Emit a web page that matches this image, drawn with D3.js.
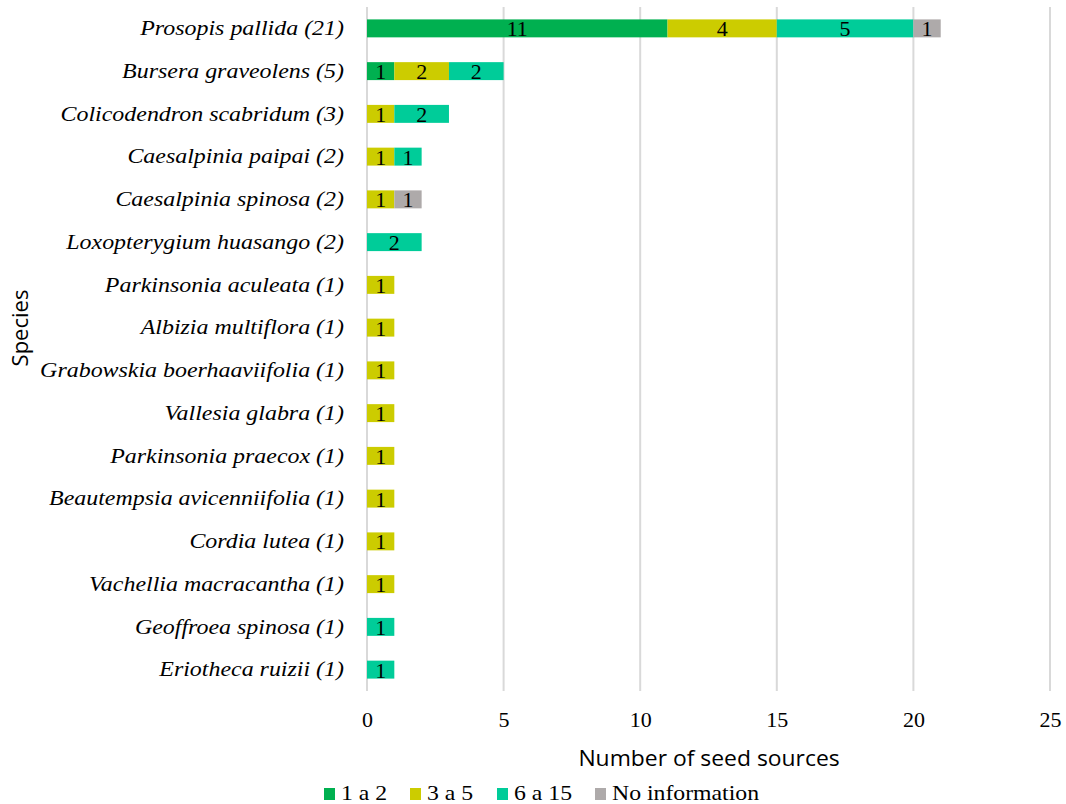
<!DOCTYPE html>
<html><head><meta charset="utf-8">
<script src="https://cdn.jsdelivr.net/npm/d3@7"></script>
<style>body{margin:0;background:#fff;}</style>
</head><body>
<svg id="chart" width="1066" height="804"></svg>
<script>
const species = ["Prosopis pallida (21)","Bursera graveolens (5)","Colicodendron scabridum (3)","Caesalpinia paipai (2)","Caesalpinia spinosa (2)","Loxopterygium huasango (2)","Parkinsonia aculeata (1)","Albizia multiflora (1)","Grabowskia boerhaaviifolia (1)","Vallesia glabra (1)","Parkinsonia praecox (1)","Beautempsia avicenniifolia (1)","Cordia lutea (1)","Vachellia macracantha (1)","Geoffroea spinosa (1)","Eriotheca ruizii (1)"];
const seriesNames = ["1 a 2","3 a 5","6 a 15","No information"];
const s1a2   = [11,1,0,0,0,0,0,0,0,0,0,0,0,0,0,0];
const s3a5   = [4,2,1,1,1,0,1,1,1,1,1,1,1,1,0,0];
const s6a15  = [5,2,2,1,0,2,0,0,0,0,0,0,0,0,1,1];
const sNoInf = [1,0,0,0,1,0,0,0,0,0,0,0,0,0,0,0];
const colors = ["#00B050","#CCCC00","#00CC99","#AEAAAA"];
const xTicks = [0,5,10,15,20,25];

const seriesVals = [s1a2,s3a5,s6a15,sNoInf];
const rows = species.map((sp,i)=>{const r={species:sp}; seriesNames.forEach((n,k)=>r[n]=seriesVals[k][i]); return r;});
const stack = d3.stack().keys(seriesNames)(rows);

const SERIF = "'Liberation Serif','Times New Roman',serif";
const svg = d3.select("#chart");
const mLeft = 367, mRight = 1050, mTop = 7, mBottom = 691;
const x = d3.scaleLinear().domain([0,25]).range([mLeft,mRight]);
const y = d3.scaleBand().domain(species).range([mTop,mBottom]).paddingInner(0.58).paddingOuter(0.29);

// gridlines
svg.append("g").selectAll("line").data(xTicks).join("line")
  .attr("x1",d=>x(d)).attr("x2",d=>x(d)).attr("y1",mTop).attr("y2",mBottom)
  .attr("stroke","#d9d9d9").attr("stroke-width",2);

// bars
const g = svg.append("g");
stack.forEach((layer,k)=>{
  const lg = g.append("g");
  lg.selectAll("rect").data(layer.filter(d=>d[1]-d[0]>0)).join("rect")
    .attr("x",d=>x(d[0])).attr("width",d=>x(d[1])-x(d[0]))
    .attr("y",d=>y(d.data.species)).attr("height",y.bandwidth())
    .attr("fill",colors[k]);
  lg.selectAll("text").data(layer.filter(d=>d[1]-d[0]>0)).join("text")
    .attr("x",d=>(x(d[0])+x(d[1]))/2).attr("y",d=>y(d.data.species)+y.bandwidth()/2+8)
    .attr("text-anchor","middle").style("font-family",SERIF).attr("font-size",22)
    .attr("fill","#000").text(d=>d[1]-d[0]);
});

// x axis tick labels
const xAxis = d3.axisBottom(x).tickValues(xTicks).tickSize(0).tickPadding(0);
const ax = svg.append("g").attr("transform",`translate(0,727)`).call(xAxis);
ax.select(".domain").remove();
ax.selectAll("text").style("font-family",SERIF).attr("font-size",22).attr("fill","#000").attr("y",0).attr("dy","0");

// y axis labels
const yAxis = d3.axisLeft(y).tickSize(0).tickPadding(0);
const ay = svg.append("g").attr("transform",`translate(${mLeft-23},0)`).call(yAxis);
ay.select(".domain").remove();
ay.selectAll("text").style("font-family",SERIF).attr("font-style","italic").attr("font-size",21)
  .attr("fill","#000").attr("x",0).attr("dy","0.32em").attr("transform","scale(1.14,1)");

// axis titles
svg.append("text").attr("transform","translate(709,766) scale(1.09,1)").attr("text-anchor","middle")
  .attr("font-family","Open Sans").attr("font-size",21).attr("fill","#000").text("Number of seed sources");
svg.append("text").attr("transform","translate(28,328) rotate(-90)").attr("text-anchor","middle")
  .attr("font-family","Open Sans").attr("font-size",22).attr("fill","#000").text("Species");

// legend
const legX = [324,410,497,595];
const leg = svg.append("g");
seriesNames.forEach((n,k)=>{
  leg.append("rect").attr("x",legX[k]).attr("y",788).attr("width",11).attr("height",12).attr("fill",colors[k]);
  leg.append("text").attr("transform",`translate(${legX[k]+17},800) scale(1.08,1)`).style("font-family",SERIF).attr("font-size",22).attr("fill","#000").text(n);
});
</script>
</body></html>
